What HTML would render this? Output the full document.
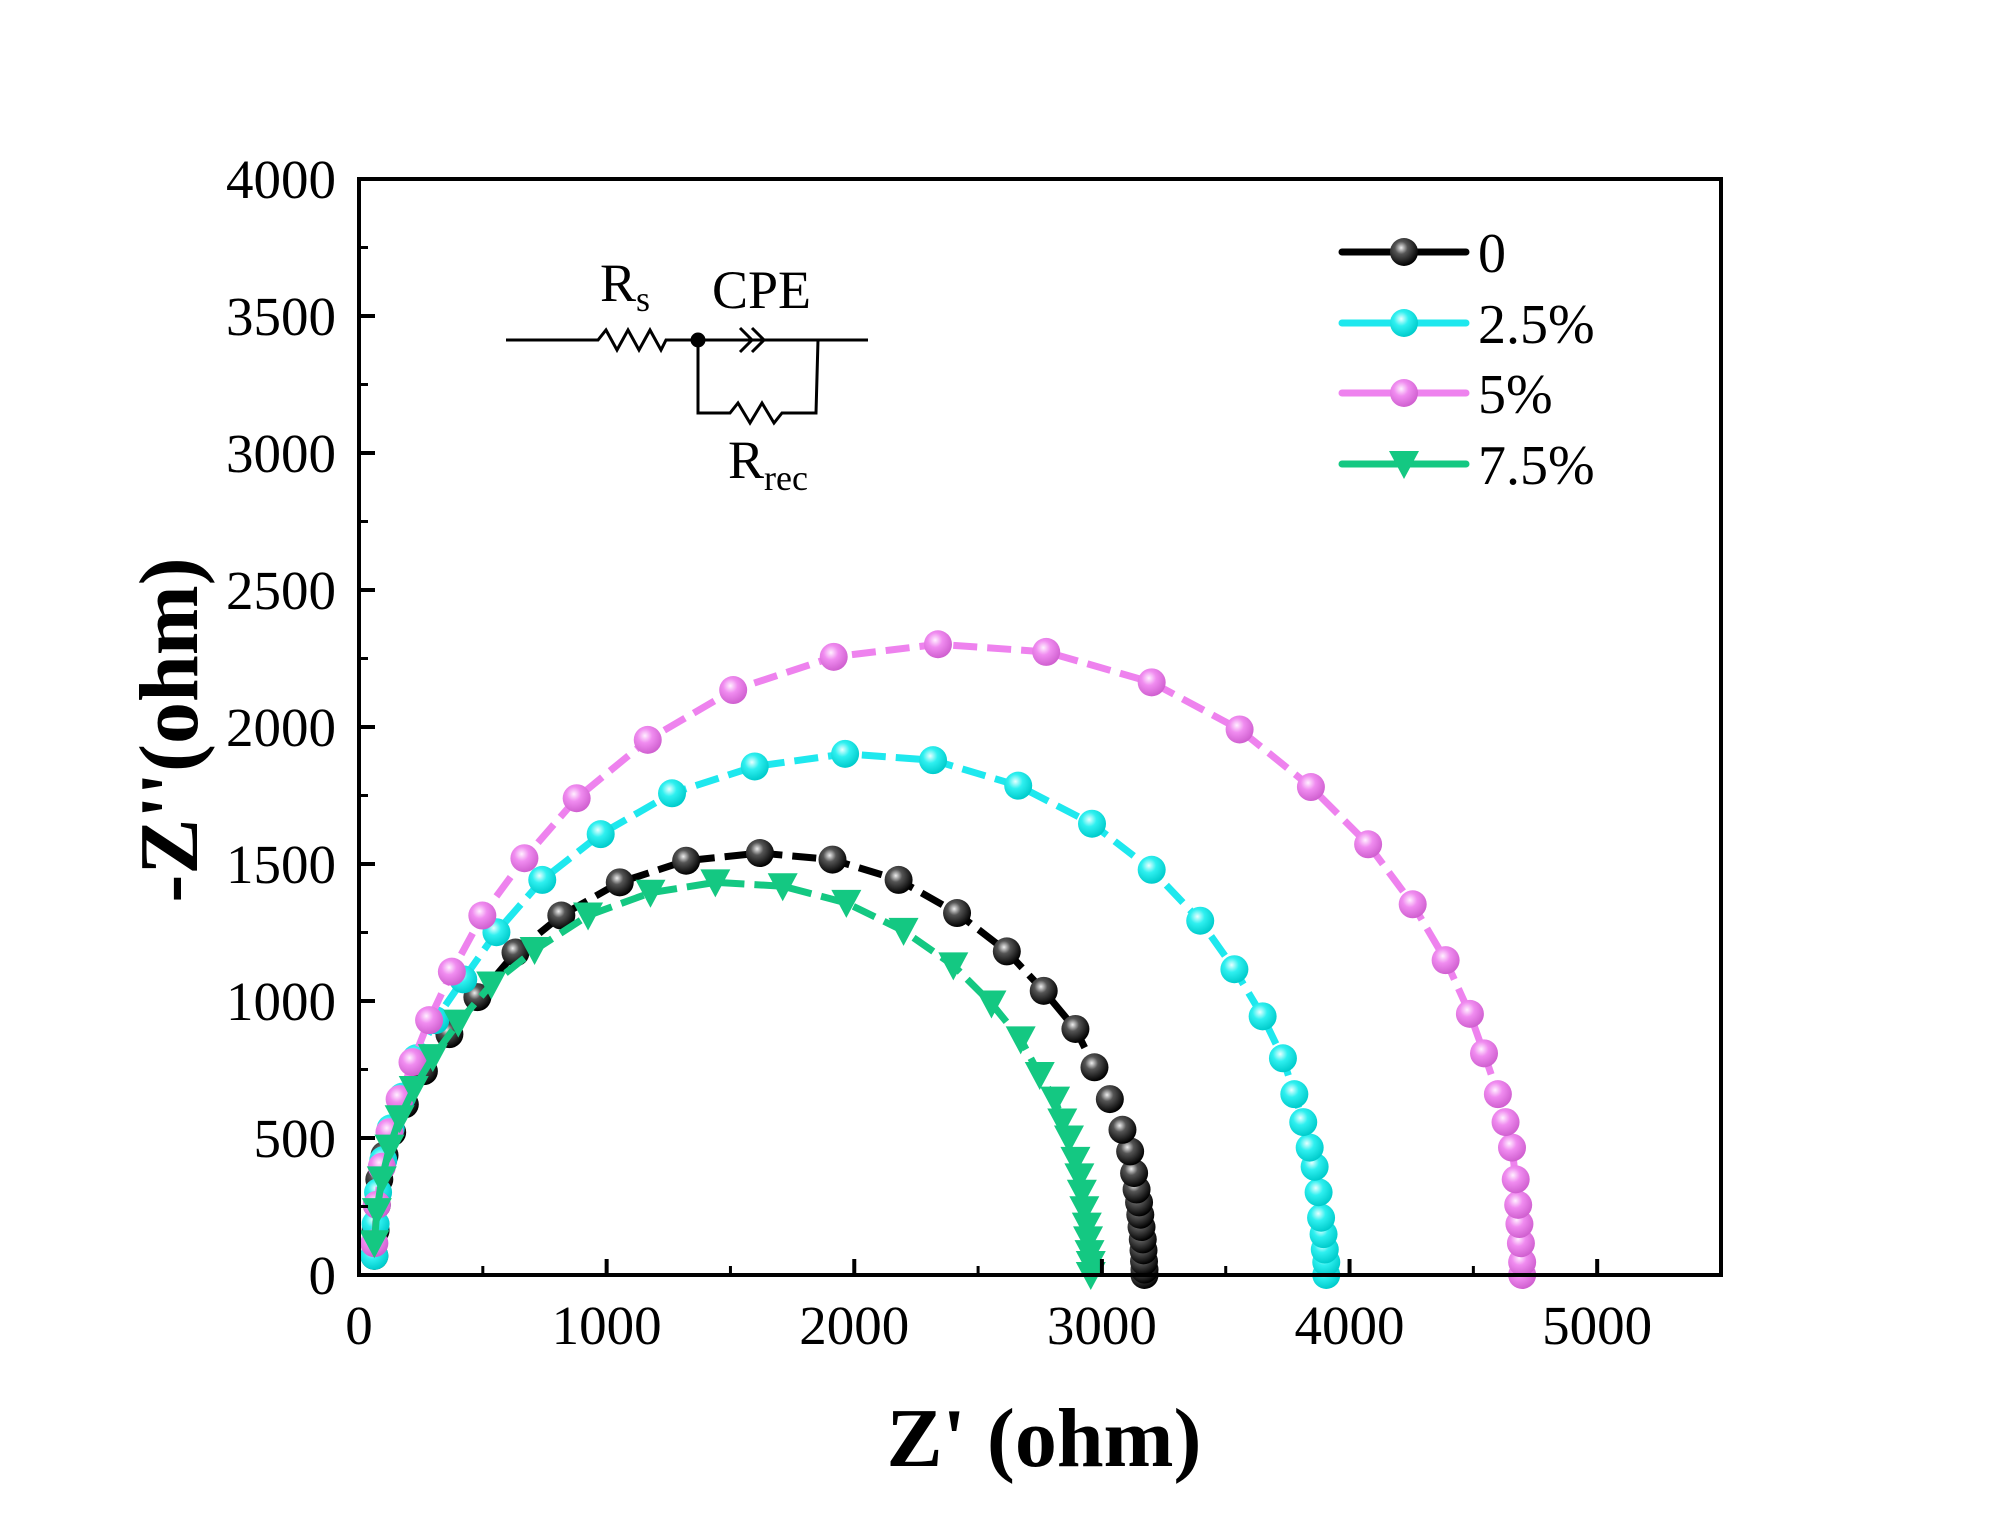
<!DOCTYPE html>
<html><head><meta charset="utf-8"><style>
html,body{margin:0;padding:0;background:#fff;}
svg{display:block;font-family:"Liberation Serif",serif;}
</style></head><body>
<svg id="chart" width="1999" height="1531" viewBox="0 0 1999 1531" xmlns="http://www.w3.org/2000/svg">
<defs>
<radialGradient id="gBlack" cx="0.4" cy="0.35" r="0.65"><stop offset="0" stop-color="#eee"/><stop offset="0.35" stop-color="#555"/><stop offset="1" stop-color="#000"/></radialGradient>
<radialGradient id="gCyan" cx="0.4" cy="0.35" r="0.65"><stop offset="0" stop-color="#e8ffff"/><stop offset="0.4" stop-color="#2ff0f0"/><stop offset="1" stop-color="#0cc"/></radialGradient>
<radialGradient id="gPink" cx="0.4" cy="0.35" r="0.65"><stop offset="0" stop-color="#fff0ff"/><stop offset="0.4" stop-color="#f08cf0"/><stop offset="1" stop-color="#d060d0"/></radialGradient>
</defs>
<g id="plot"></g>
<rect x="359" y="179" width="1362" height="1096" fill="none" stroke="#000" stroke-width="4"/>
<g id="axes"></g>
<text x="1044" y="1466" font-size="84" font-weight="bold" text-anchor="middle">Z' (ohm)</text>
<text transform="translate(197,730) rotate(-90)" font-size="84" font-weight="bold" text-anchor="middle">-Z''(ohm)</text>
<g stroke="#000" stroke-width="3" fill="none">
<polyline points="506,340 598,340 606,330 617,350 628,330 639,350 650,330 661,350 666,340 773,340"/>
<polyline points="740,328 752,340 740,352"/><polyline points="752,328 764,340 752,352"/>
<polyline points="773,340 868,340"/>
<polyline points="698,340 698,413 730,413 738,403 750,423 762,403 774,423 782,413 816,413 818,340"/>
<circle cx="698" cy="340" r="6" fill="#000"/>
</g>
<text x="600" y="301" font-size="54">R<tspan font-size="36" dy="10">s</tspan></text>
<text x="712" y="308" font-size="54">CPE</text>
<text x="728" y="478" font-size="54">R<tspan font-size="36" dy="12">rec</tspan></text>
<g id="legend"></g>
</svg>
<script>
const xTicks=[0,1000,2000,3000,4000,5000];
const yTicks=[0,500,1000,1500,2000,2500,3000,3500,4000];
const seriesNames=["0","2.5%","5%","7.5%"];
const x0=[3172,3172,3170,3168,3165,3160,3155,3150,3140,3130,3114,3083,3032,2970,2893,2765,2616,2415,2179,1912,1619,1321,1053,817,632,478,365,262,185,134,103,82,72,67,62];
const y0=[0,20,50,90,130,175,220,265,312,372,451,530,642,758,898,1037,1181,1321,1442,1516,1540,1512,1433,1312,1177,1014,879,744,623,521,437,349,256,163,70];
const x25=[3906,3906,3900,3895,3885,3875,3859,3839,3813,3777,3731,3649,3535,3397,3201,2960,2662,2318,1963,1598,1264,976,740,555,421,308,231,175,128,98,77,67,62];
const y25=[0,47,93,149,209,302,395,465,558,660,791,944,1116,1293,1479,1647,1786,1879,1902,1856,1758,1609,1442,1251,1079,930,791,651,535,419,302,186,70];
const x5=[4697,4697,4692,4686,4681,4671,4656,4630,4599,4543,4486,4388,4255,4075,3844,3556,3201,2775,2338,1917,1511,1166,879,668,498,375,283,216,164,123,92,72,62];
const y5=[0,47,116,186,256,349,465,558,660,809,953,1149,1353,1572,1781,1991,2163,2274,2302,2256,2135,1953,1740,1521,1312,1107,930,777,642,521,395,256,116];
const x75=[2955,2955,2950,2944,2939,2929,2919,2909,2893,2867,2840,2811,2749,2672,2554,2400,2199,1968,1711,1439,1177,925,709,534,401,298,221,164,123,92,72,62];
const y75=[0,40,80,130,180,240,300,360,420,498,560,640,730,860,991,1130,1256,1358,1419,1433,1395,1312,1186,1060,921,795,679,572,465,349,233,116];

const NS="http://www.w3.org/2000/svg";
const L=359,R=1721,T=179,B=1275;
const sx=v=>L+v*(R-L)/5500;
const sy=v=>B-v*(B-T)/4000;
function mk(tag,attrs,parent){const e=document.createElementNS(NS,tag);for(const k in attrs)e.setAttribute(k,attrs[k]);parent.appendChild(e);return e;}
const axes=document.getElementById('axes');
xTicks.forEach(v=>{
  const t=mk('line',{x1:sx(v),x2:sx(v),y1:B,y2:B-16,stroke:'#000','stroke-width':4},axes);
  
  
  const lb=mk('text',{x:sx(v),y:1344,'font-size':55,'text-anchor':'middle'},axes);lb.textContent=v;
  
  
  if(v<5000){const m=mk('line',{x1:sx(v+500),x2:sx(v+500),y1:B,y2:B-9,stroke:'#000','stroke-width':3},axes);
  
  }
});
yTicks.forEach(v=>{
  const t=mk('line',{x1:L,x2:L+16,y1:sy(v),y2:sy(v),stroke:'#000','stroke-width':4},axes);
  
  
  const lb=mk('text',{x:336,y:sy(v)+19,'font-size':55,'text-anchor':'end'},axes);lb.textContent=v;
  
  
  if(v<4000){const m=mk('line',{x1:L,x2:L+9,y1:sy(v+250),y2:sy(v+250),stroke:'#000','stroke-width':3},axes);
  
  }
});
const series=[
 {xs:x0,ys:y0,color:'#000',fill:'url(#gBlack)',tri:false,name:'series-0'},
 {xs:x25,ys:y25,color:'#1ee8ee',fill:'url(#gCyan)',tri:false,name:'series-2-5'},
 {xs:x5,ys:y5,color:'#ee82ee',fill:'url(#gPink)',tri:false,name:'series-5'},
 {xs:x75,ys:y75,color:'#14c882',fill:'#14c882',tri:true,name:'series-7-5'}
];
const plot=document.getElementById('plot');
function marker(g,cx,cy,s){
  if(s.tri){return mk('polygon',{points:`${cx-15},${cy-13} ${cx+15},${cy-13} ${cx},${cy+15}`,fill:s.fill},g);}
  return mk('circle',{cx:cx,cy:cy,r:14,fill:s.fill},g);
}
series.forEach(s=>{
  const g=mk('g',{},plot);
  
  
  const pts=s.xs.map((x,i)=>sx(x)+','+sy(s.ys[i])).join(' ');
  const pl=mk('polyline',{points:pts,fill:'none',stroke:s.color,'stroke-width':7,'stroke-dasharray':'24,10'},g);
  
  
  s.xs.forEach((x,i)=>{const m=marker(g,sx(x),sy(s.ys[i]),s);
    
    });
});
const leg=document.getElementById('legend');
const legY=[252,323,393,464];
series.forEach((s,i)=>{
  const g=mk('g',{},leg);
  
  
  mk('line',{x1:1342,x2:1466,y1:legY[i],y2:legY[i],stroke:s.color,'stroke-width':7,'stroke-linecap':'round'},g);
  marker(g,1404,legY[i],s);
  const t=mk('text',{x:1478,y:legY[i]+20,'font-size':56},g);t.textContent=seriesNames[i];
});
</script>
</body></html>
